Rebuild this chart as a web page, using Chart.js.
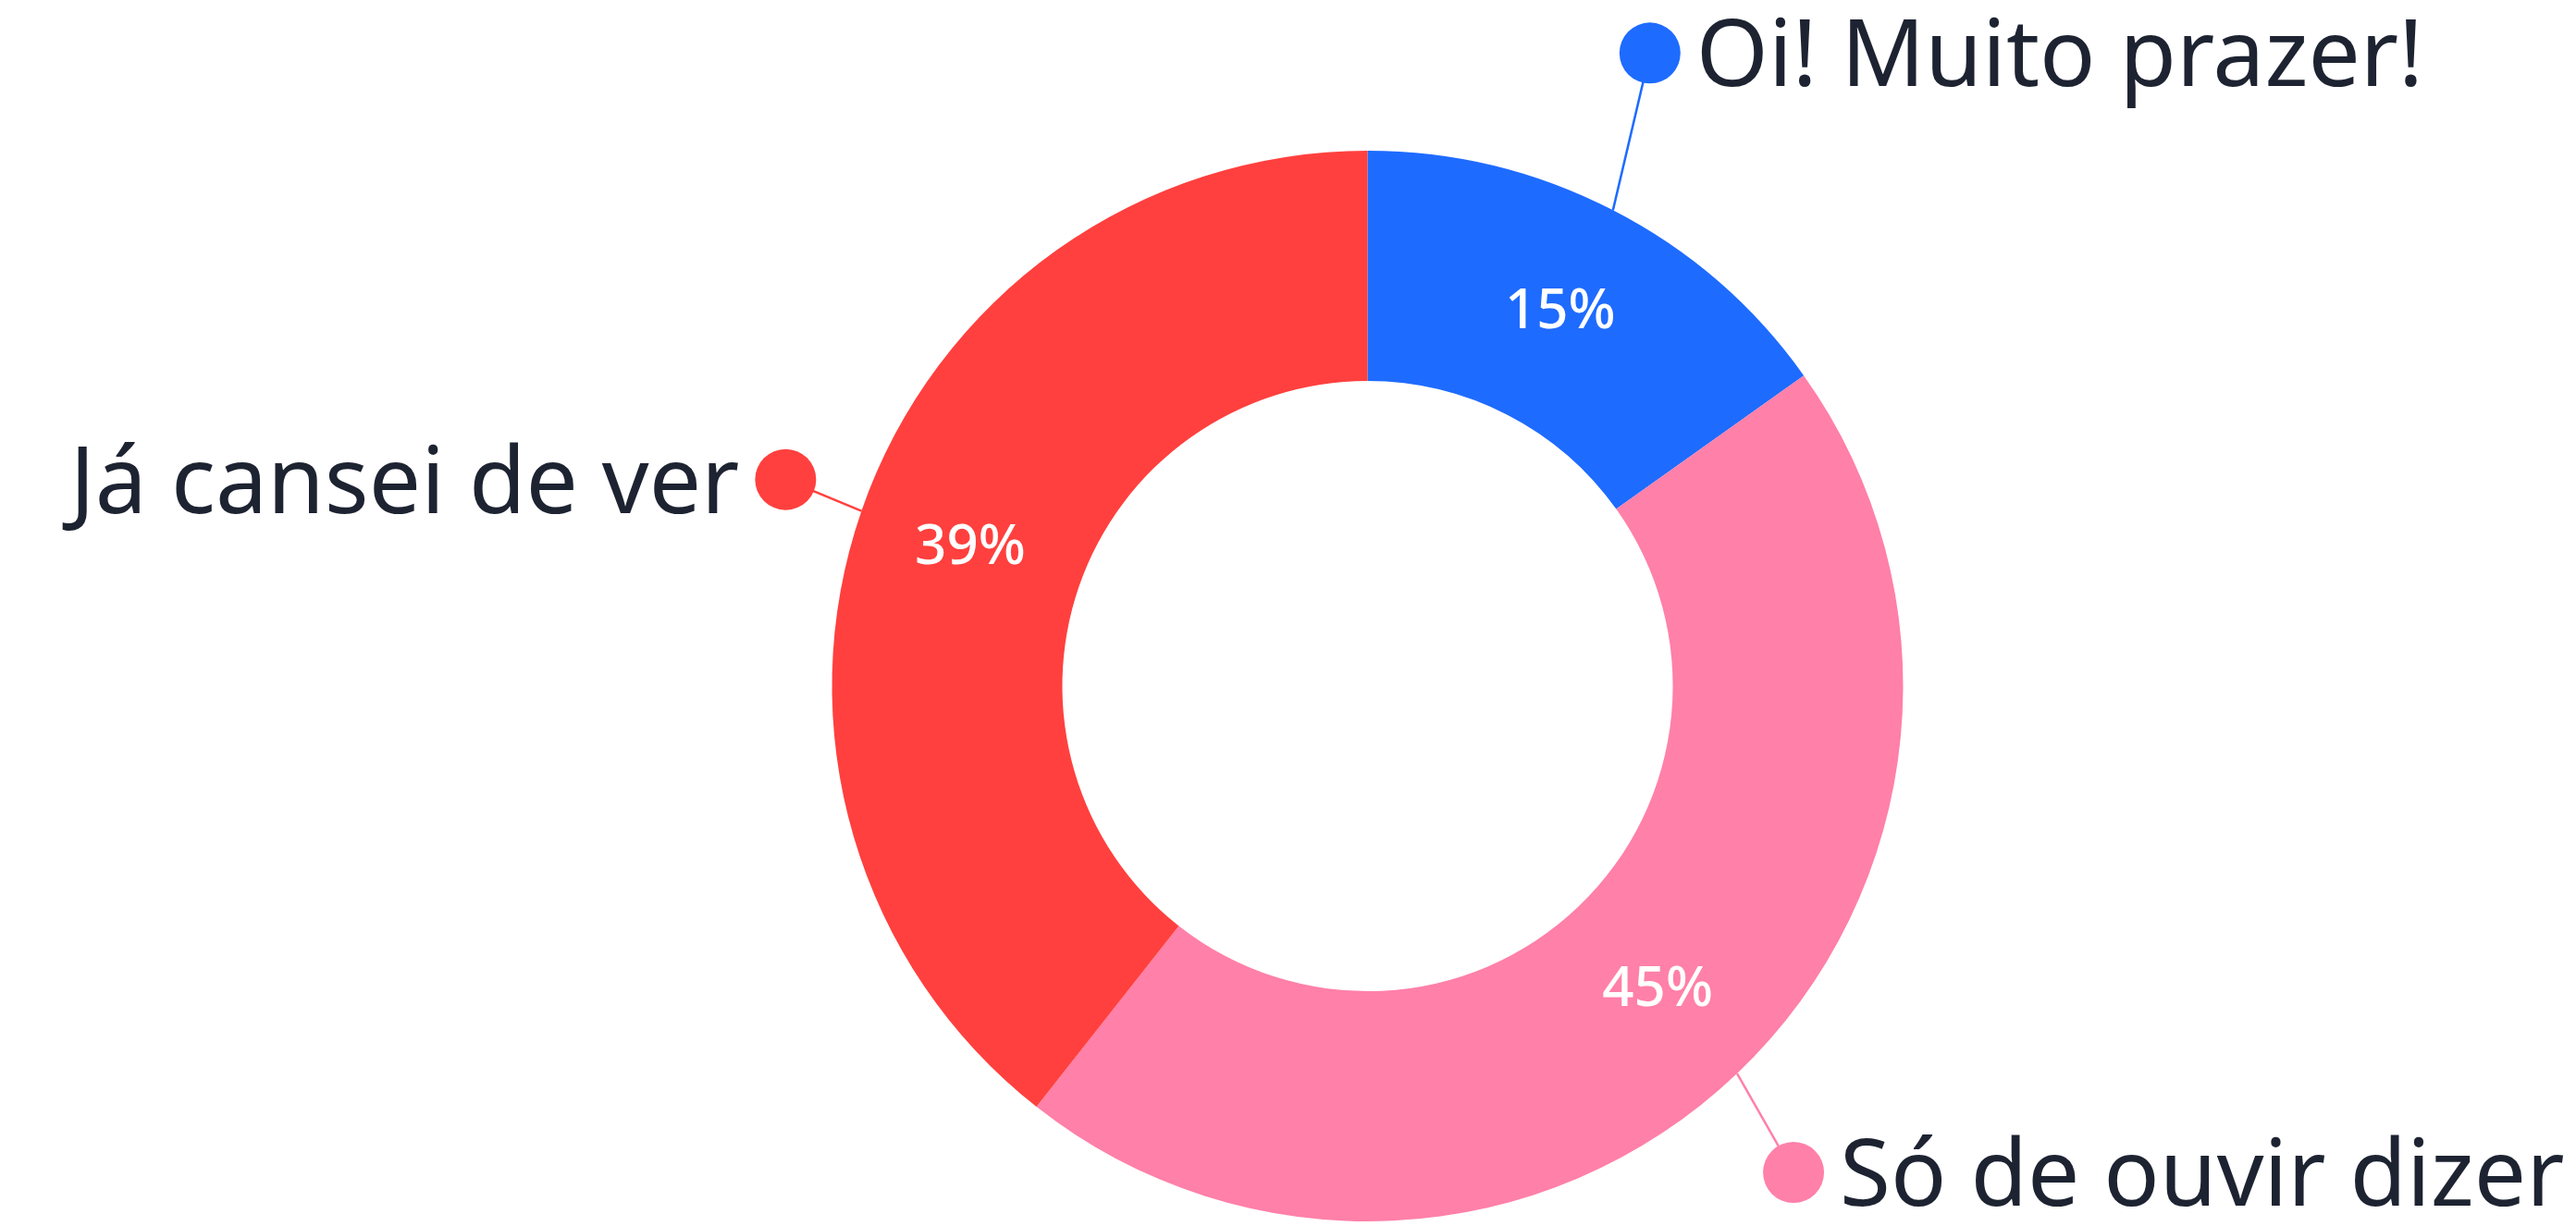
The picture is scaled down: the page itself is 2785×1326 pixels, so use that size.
<!DOCTYPE html>
<html><head><meta charset="utf-8">
<script src="https://cdn.jsdelivr.net/npm/chart.js@4/dist/chart.umd.min.js"></script>
<style>html,body{margin:0;padding:0;background:#ffffff;}#wrap{width:2785px;height:1326px;position:relative;}</style>
</head><body><div id="wrap"><canvas id="c"></canvas></div>
<script>
const categories = ["Oi! Muito prazer!", "Só de ouvir dizer", "Já cansei de ver"];
const values = [15, 45, 39];
const colors = ["#1E6BFF", "#FF80A9", "#FF403E"];
// callout offsets (layout only): dot position relative to slice outer mid-point, and text side
const callouts = [
  {dx: 40, dy: -170, side: "right"},
  {dx: 61, dy: 107, side: "right"},
  {dx: -82, dy: -34, side: "left"}
];

const calloutPlugin = {
  id: "callouts",
  afterDatasetsDraw(chart) {
    const ctx = chart.ctx;
    const meta = chart.getDatasetMeta(0);
    meta.data.forEach((arc, i) => {
      const p = arc.getProps(["x", "y", "startAngle", "endAngle", "outerRadius", "innerRadius"], true);
      const mid = (p.startAngle + p.endAngle) / 2;
      const midR = (p.outerRadius + p.innerRadius) / 2;
      ctx.save();
      ctx.fillStyle = "#ffffff";
      ctx.font = "500 60px 'Noto Sans', sans-serif";
      ctx.textAlign = "center";
      ctx.textBaseline = "middle";
      ctx.fillText(Math.round(values[i]) + "%", p.x + Math.cos(mid) * midR, p.y + Math.sin(mid) * midR);
      const ox = p.x + Math.cos(mid) * p.outerRadius;
      const oy = p.y + Math.sin(mid) * p.outerRadius;
      const c = callouts[i];
      const dx = ox + c.dx, dy = oy + c.dy;
      ctx.strokeStyle = colors[i];
      ctx.lineWidth = 2.5;
      ctx.beginPath();
      ctx.moveTo(ox, oy);
      ctx.lineTo(dx, dy);
      ctx.stroke();
      ctx.fillStyle = colors[i];
      ctx.beginPath();
      ctx.arc(dx, dy, 33, 0, Math.PI * 2);
      ctx.fill();
      ctx.fillStyle = "#1D2331";
      ctx.font = "400 100px 'Noto Sans', sans-serif";
      ctx.textBaseline = "alphabetic";
      const capH = ctx.measureText("H").actualBoundingBoxAscent;
      if (c.side === "right") {
        ctx.textAlign = "left";
        ctx.fillText(categories[i], dx + 50, dy + capH / 2);
      } else {
        ctx.textAlign = "right";
        ctx.fillText(categories[i], dx - 50, dy + capH / 2);
      }
      ctx.restore();
    });
  }
};

new Chart(document.getElementById("c"), {
  type: "doughnut",
  data: {
    labels: categories,
    datasets: [{
      data: values,
      backgroundColor: colors,
      borderWidth: 0
    }]
  },
  options: {
    responsive: true,
    maintainAspectRatio: false,
    animation: false,
    cutout: "57%",
    layout: {padding: {left: 899, right: 727, top: 163, bottom: 5}},
    plugins: {legend: {display: false}, tooltip: {enabled: false}}
  },
  plugins: [calloutPlugin]
});
</script></body></html>
